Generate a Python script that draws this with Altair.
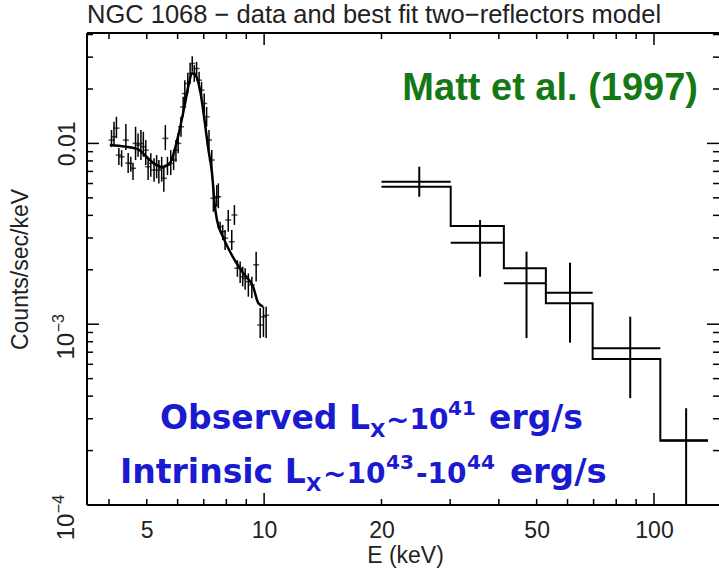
import altair as alt
import pandas as pd

# ---------------- data ----------------
# low-energy data points: energy, value, lower, upper
le_E = [4.06, 4.12, 4.18, 4.24, 4.31, 4.42, 4.48, 4.55, 4.61, 4.68,
        4.75, 4.83, 4.90, 4.97, 5.04, 5.12, 5.22, 5.30, 5.37, 5.46,
        5.53, 5.58, 5.65, 5.76, 5.86, 5.94, 6.02, 6.12, 6.20, 6.26,
        6.37, 6.46, 6.54, 6.62, 6.71, 6.81, 6.91, 7.02, 7.12, 7.22,
        7.34, 7.41, 7.56, 7.63, 7.71, 7.83, 7.94, 8.09, 8.26, 8.39,
        8.54, 8.68, 8.81, 8.94, 9.11, 9.30, 9.54, 9.77, 9.96, 10.12]
le_y = [0.01043, 0.01088, 0.01215, 0.00862, 0.00843, 0.01043, 0.00778, 0.00775, 0.00728, 0.0100,
        0.00979, 0.0100, 0.00958, 0.00918, 0.00743, 0.00775, 0.00712, 0.00759, 0.00712, 0.00728,
        0.00641, 0.01066, 0.00759, 0.00775, 0.00809, 0.00918, 0.0100, 0.01236, 0.0159, 0.01888,
        0.02145, 0.02438, 0.02768, 0.02438, 0.02594, 0.02237, 0.0197, 0.01664, 0.01403, 0.01043,
        0.00809, 0.00497, 0.00507, 0.00507, 0.00346, 0.00325, 0.00299, 0.00377, 0.00286, 0.00402,
        0.00204, 0.00204, 0.00183, 0.00179, 0.00172, 0.00165, 0.00213, 0.00099, 0.00110, 0.00112]
le_lo = [0.00954, 0.00979, 0.01069, 0.00759, 0.00743, 0.00918, 0.00686, 0.00697, 0.00627, 0.00809,
         0.00843, 0.00809, 0.00843, 0.00759, 0.00627, 0.00653, 0.00614, 0.00641, 0.00601, 0.00614,
         0.00541, 0.00918, 0.00668, 0.00668, 0.00712, 0.00792, 0.00881, 0.01088, 0.01403, 0.01629,
         0.01888, 0.02145, 0.02489, 0.02188, 0.02333, 0.02016, 0.01774, 0.01466, 0.01236, 0.00918,
         0.00683, 0.00419, 0.00447, 0.00438, 0.00325, 0.00292, 0.00257, 0.00325, 0.00257, 0.00354,
         0.00183, 0.00169, 0.00162, 0.00155, 0.00142, 0.00139, 0.00172, 0.00084, 0.00085, 0.00084]
le_hi = [0.01186, 0.01316, 0.01403, 0.00942, 0.00918, 0.0128, 0.00884, 0.00843, 0.00775, 0.01236,
         0.01136, 0.01186, 0.01159, 0.01043, 0.00843, 0.00881, 0.00827, 0.00862, 0.00809, 0.00843,
         0.00728, 0.01263, 0.00843, 0.00918, 0.00918, 0.01043, 0.01136, 0.01403, 0.01809, 0.02237,
         0.02438, 0.02768, 0.03036, 0.0271, 0.02823, 0.02489, 0.02188, 0.01888, 0.0159, 0.01186,
         0.00918, 0.00588, 0.00588, 0.00601, 0.00369, 0.00354, 0.00332, 0.00428, 0.00332, 0.00456,
         0.00226, 0.00222, 0.00208, 0.00204, 0.00191, 0.00183, 0.00252, 0.00123, 0.00125, 0.00125]

# low-energy best-fit model
mod_E = [4.02, 4.4, 4.74, 5.09, 5.47, 5.73, 6.01, 6.27, 6.4, 6.53, 6.65, 6.85,
         7.05, 7.18, 7.35, 7.48, 7.57, 7.85, 8.32, 8.83, 9.37, 9.66, 9.94]
mod_y = [0.00979, 0.0096, 0.0093, 0.00809, 0.0074, 0.00778, 0.01083, 0.0167, 0.0210,
         0.0244, 0.0240, 0.0197, 0.0129, 0.00954, 0.00686, 0.00445, 0.00377, 0.00303,
         0.00235, 0.00192, 0.00161, 0.00131, 0.00125]

# high-energy bins
pds_lo = [20.0, 30.1, 41.2, 52.8, 69.6, 103.8]
pds_hi = [30.1, 41.2, 52.8, 69.6, 103.8, 137.5]
pds_E = [25.0, 35.8, 47.1, 60.9, 86.9, 120.9]
pds_y = [0.00613, 0.002825, 0.001684, 0.001495, 0.000737, 0.000228]
pds_ylo = [0.00507, 0.00183, 0.000838, 0.000791, 0.00039, 0.0001]
pds_yhi = [0.00743, 0.00377, 0.00252, 0.00219, 0.0011, 0.000343]
pds_model = [0.00576, 0.00349, 0.00204, 0.001306, 0.000641, 0.000227]

# axis ticks and labels
x_major = [10, 100]
x_minor = [4, 5, 6, 7, 8, 9, 20, 30, 40, 50, 60, 70, 80, 90]
x_labels = [5, 10, 20, 50, 100]
y_major = [1e-4, 1e-3, 1e-2]
y_minor = [2e-4, 3e-4, 4e-4, 5e-4, 6e-4, 7e-4, 8e-4, 9e-4,
           2e-3, 3e-3, 4e-3, 5e-3, 6e-3, 7e-3, 8e-3, 9e-3, 0.02, 0.03, 0.04]
y_plain = [1e-2]
y_pow = [1e-3, 1e-4]
y_pow_exp = ["\u22123", "\u22124"]

# ---------------- layout ----------------
W, H = 632, 472
PL, PT = 87, 33
FONT = "Liberation Sans"
TXT = "#222222"

xs = alt.Scale(type="log", domain=[3.513, 146.8], nice=False)
ys = alt.Scale(type="log", domain=[1e-4, 0.0408], nice=False)

le = pd.DataFrame({"E": le_E, "v": le_y, "lo": le_lo, "hi": le_hi})
mod = pd.DataFrame({"E": mod_E, "v": mod_y})
pds = pd.DataFrame({"E": pds_E, "v": pds_y, "lo": pds_ylo, "hi": pds_yhi,
                    "e1": pds_lo, "e2": pds_hi})
step = pd.DataFrame({"E": pds_lo + [pds_hi[-1]], "v": pds_model + [pds_model[-1]]})
powdf = pd.DataFrame({"t": y_pow, "sup": y_pow_exp})
one = pd.DataFrame({"d": [0]})

xaxis = alt.Axis(values=x_labels, labelExpr="format(datum.value, '~g')", ticks=False,
                 tickSize=0, domain=False, grid=False, labelFontSize=23, labelFont=FONT,
                 labelColor=TXT, labelBaseline="top", labelPadding=14, labelFlush=False,
                 labelOverlap=False, title="E (keV)", titleFontSize=23, titleFont=FONT,
                 titleFontWeight="normal", titleColor=TXT, titleX=W / 2 + 2, titleY=50,
                 titleAlign="center", titleBaseline="middle")
yaxis = alt.Axis(values=y_plain, labelExpr="'0.01'",
                 ticks=False, tickSize=0, domain=False, grid=False, labelAngle=270,
                 labelAlign="center", labelBaseline="alphabetic", labelPadding=13,
                 labelFontSize=23, labelFont=FONT, labelColor=TXT, labelFlush=False,
                 labelOverlap=False, title="Counts/sec/keV", titleFontSize=23,
                 titleFont=FONT, titleFontWeight="normal", titleColor=TXT, titleAngle=270,
                 titleAlign="center", titleBaseline="middle", titleX=-67, titleY=H / 2)

X = lambda f: alt.X(f, scale=xs, axis=xaxis)
Y = lambda f: alt.Y(f, scale=ys, axis=yaxis)

# data error bars (low energy)
le_err = alt.Chart(le).mark_rule(color="black", strokeWidth=1.5, clip=True).encode(
    x=X("E:Q"), y=Y("lo:Q"), y2="hi:Q")
le_tick = alt.Chart(le).mark_tick(color="black", orient="horizontal", size=6,
                                  thickness=1.5, clip=True).encode(
    x=X("E:Q"), y=Y("v:Q"))
mod_line = alt.Chart(mod).mark_line(color="black", strokeWidth=2.5, interpolate="monotone",
                                    clip=True).encode(x=X("E:Q"), y=Y("v:Q"))

# high energy
pds_v = alt.Chart(pds).mark_rule(color="black", strokeWidth=2, clip=True).encode(
    x=X("E:Q"), y=Y("lo:Q"), y2="hi:Q")
pds_h = alt.Chart(pds).mark_rule(color="black", strokeWidth=2, clip=True).encode(
    x=X("e1:Q"), x2="e2:Q", y=Y("v:Q"))
pds_m = alt.Chart(step).mark_line(color="black", strokeWidth=2, interpolate="step-after",
                                  clip=True).encode(x=X("E:Q"), y=Y("v:Q"))

# frame (right side falls at the window edge)
fr = alt.Chart(one).mark_rule(color="black", strokeWidth=2)
frame = [
    fr.encode(x=alt.value(0), y=alt.value(0), y2=alt.value(H)),
    fr.encode(x=alt.value(0), x2=alt.value(W), y=alt.value(0)),
    fr.encode(x=alt.value(0), x2=alt.value(W), y=alt.value(H)),
]

# inward ticks
def xticks(vals, length):
    d = pd.DataFrame({"t": vals})
    base = alt.Chart(d).mark_rule(color="black", strokeWidth=1.5)
    return [base.encode(x=X("t:Q"), y=alt.value(H), y2=alt.value(H - length)),
            base.encode(x=X("t:Q"), y=alt.value(0), y2=alt.value(length))]

def yticks(vals, length):
    d = pd.DataFrame({"t": vals})
    base = alt.Chart(d).mark_rule(color="black", strokeWidth=1.5)
    return [base.encode(y=Y("t:Q"), x=alt.value(0), x2=alt.value(length)),
            base.encode(y=Y("t:Q"), x=alt.value(W), x2=alt.value(W - length))]

ticks = xticks(x_major, 12) + xticks(x_minor, 6) + yticks(y_major, 12) + yticks(y_minor, 6)

# power-of-ten y labels, rotated like the axis labels (dx acts along the rotated text)
pow_base = alt.Chart(powdf).mark_text(text="10", angle=270, align="center",
                                      baseline="alphabetic", fontSize=24, font=FONT,
                                      color=TXT, dx=-22).encode(
    y=Y("t:Q"), x=alt.value(-13))
pow_sup = alt.Chart(powdf).mark_text(angle=270, align="center", baseline="alphabetic",
                                     fontSize=16, font=FONT, color=TXT, dx=1).encode(
    y=Y("t:Q"), x=alt.value(-23), text="sup:N")

# text annotations (page coordinates converted to plot coordinates)
def txt(s, x, y, size, color, font=FONT, bold=False, align="left"):
    return alt.Chart(one).mark_text(text=s, align=align, baseline="alphabetic",
                                    fontSize=size, font=font,
                                    fontWeight="bold" if bold else "normal",
                                    color=color).encode(
        x=alt.value(x - PL), y=alt.value(y - PT))

BLUE = "#1a1ad0"
GREEN = "#147814"
BF = "DejaVu Sans"
texts = [
    txt("NGC 1068 \u2212 data and best fit two\u2212reflectors model", 87, 23, 25.5, TXT),
    txt("Matt et al. (1997)", 698, 100, 38, GREEN, font=FONT, bold=True, align="right"),
    # line 1
    txt("Observed L", 160, 429, 33, BLUE, font=BF, bold=True),
    txt("X", 370, 437, 20, BLUE, font=BF, bold=True),
    txt("~10", 386, 429, 28, BLUE, font=BF, bold=True),
    txt("41", 448, 415, 20, BLUE, font=BF, bold=True),
    txt("erg/s", 489, 429, 33, BLUE, font=BF, bold=True),
    # line 2
    txt("Intrinsic L", 120, 483, 33, BLUE, font=BF, bold=True),
    txt("X", 306, 491, 20, BLUE, font=BF, bold=True),
    txt("~10", 323, 483, 28, BLUE, font=BF, bold=True),
    txt("43", 386, 469, 20, BLUE, font=BF, bold=True),
    txt("-10", 416, 483, 28, BLUE, font=BF, bold=True),
    txt("44", 467, 469, 20, BLUE, font=BF, bold=True),
    txt("erg/s", 510, 483, 34, BLUE, font=BF, bold=True),
]

chart = alt.layer(
    le_err, le_tick, mod_line, pds_v, pds_h, pds_m, *frame, *ticks,
    pow_base, pow_sup, *texts
).properties(
    width=W, height=H,
    autosize=alt.AutoSizeParams(type="none"),
    padding={"left": PL, "top": PT, "right": 0, "bottom": 569 - PT - H},
    background="white",
).configure_view(strokeWidth=0)

chart.save("out.html", embed_options={"renderer": "svg", "actions": False})
